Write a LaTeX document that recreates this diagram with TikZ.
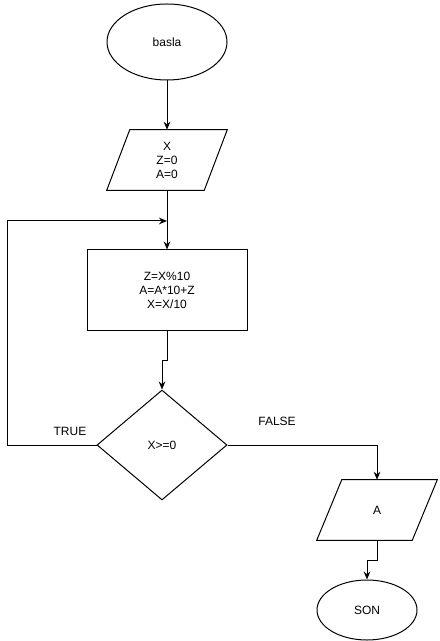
\documentclass[tikz,border=0pt]{standalone}
\usepackage{fontspec}
\setmainfont{Liberation Sans}
\usetikzlibrary{shapes.geometric,arrows.meta}
\begin{document}
\begin{tikzpicture}[x=0.75pt,y=-0.75pt,
  every node/.style={font=\fontsize{9}{10.5}\selectfont, align=center, inner sep=0pt},
  shp/.style={draw=black, line width=0.75pt, fill=white},
  term/.style={shp, ellipse},
  io/.style={rectangle, minimum width=90pt, minimum height=45pt},
  para/.style={draw=black, line width=0.75pt, line join=miter},
  proc/.style={shp, rectangle, minimum width=120pt, minimum height=60pt},
  dec/.style={shp, diamond, minimum width=97.5pt, minimum height=82.5pt},
  conn/.style={draw=black, line width=0.75pt},
  arr/.style={conn, -{Stealth[length=6pt,width=5pt]}},
  lbl/.style={font=\fontsize{9}{10.5}\selectfont}
]
\useasboundingbox (0,0) rectangle (439,641);
\node[term, minimum width=90pt, minimum height=57pt] (start) at (167,42) {basla};
\node[io] (inp) at (167,160) {X\\Z=0\\A=0};
\draw[para] ([xshift=17.25pt]inp.north west) -- (inp.north east) -- ([xshift=-17.25pt]inp.south east) -- (inp.south west) -- cycle;
\node[proc] (calc) at (167,290) {Z=X\%10\\A=A*10+Z\\X=X/10};
\node[dec] (cond) at (162,445) {X>=0};
\node[io] (out) at (377,510) {A};
\draw[para] ([xshift=18.75pt]out.north west) -- (out.north east) -- ([xshift=-18.75pt]out.south east) -- (out.south west) -- cycle;
\node[term, minimum width=75pt, minimum height=45pt] (stop) at (367,610) {SON};
\coordinate (loopc) at (7,221);
\coordinate (join) at (167,221);
\coordinate (jog1) at (162,360);
\coordinate (jog2) at (367,560);
\node[lbl] (tl) at (70,431) {TRUE};
\node[lbl] (fl) at (277,421) {FALSE};

\draw[arr] (start) -- (inp);
\draw[arr] (inp.south) -- (calc.north);
\draw[arr] (cond.west) -| (loopc) -- (join);
\draw[arr] (calc.south) |- (jog1) -- (cond.north);
\draw[arr] (cond.east) -| (out.north);
\draw[arr] (out.south) |- (jog2) -- (stop.north);
\end{tikzpicture}
\end{document}
